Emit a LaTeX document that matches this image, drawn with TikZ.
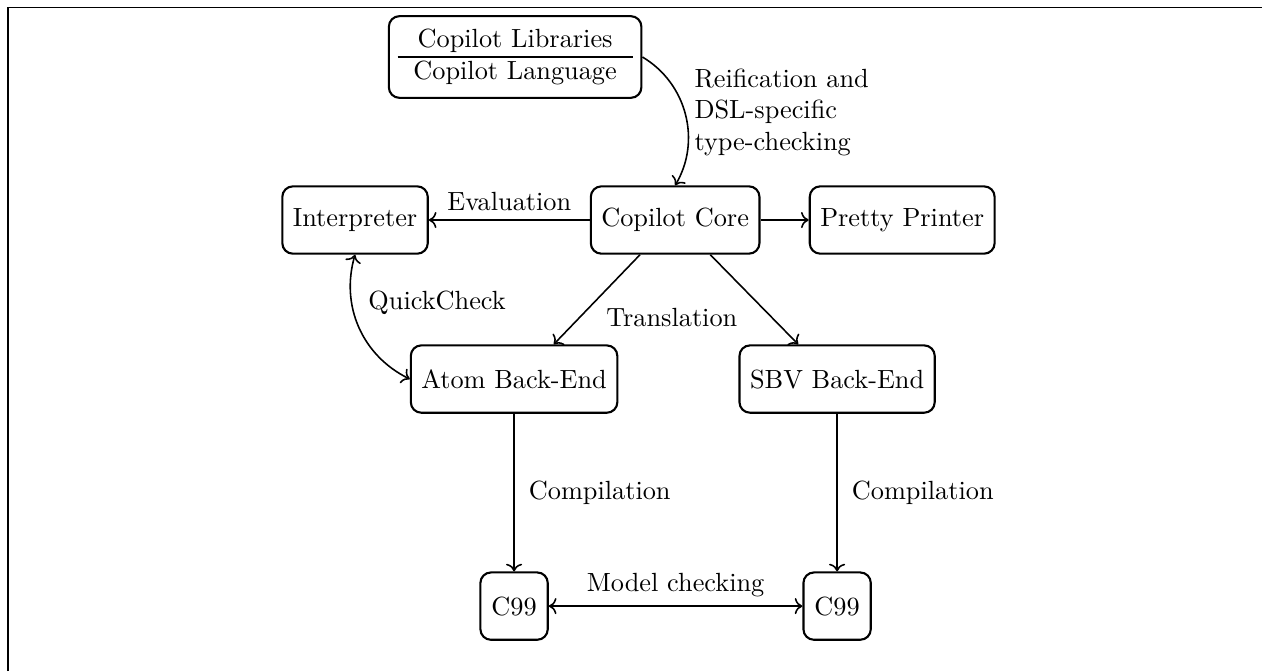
\documentclass[tikz,border=0pt]{standalone}
\usepackage{tikz}
\usetikzlibrary{calc,arrows.meta}

\tikzset{
  blok/.style={draw, thick, rounded corners=4pt, minimum height=0.9cm, minimum width=0.9cm, inner xsep=4pt},
  strilka/.style={semithick, ->},
}

\begin{document}
\begin{tikzpicture}
        % рамка (видно лише верхній і лівий край)
        \useasboundingbox (0,0) rectangle (16.87,-8.97);
        \draw (0.107,-8.97) -- (0.107,-0.094) -- (16.87,-0.094);

        % вузли
        \node[draw, thick, rounded corners=4pt] (lang) at (6.886,-0.762)
            {\begin{tabular}{c}Copilot Libraries\\ \hline Copilot Language\end{tabular}};
        \node[blok] (interp) at (4.746,-2.941) {Interpreter};
        \node[blok] (core) at (9.025,-2.941) {Copilot Core};
        \node[blok] (pretty) at (12.06,-2.941) {Pretty Printer};
        \node[blok] (atom) at (6.872,-5.067) {Atom Back-End};
        \node[blok] (sbv) at (11.19,-5.067) {SBV Back-End};
        \node[blok] (cA) at (6.872,-8.102) {C99};
        \node[blok] (cB) at (11.19,-8.102) {C99};

        % кінці стрілок трансляції
        \coordinate (coreL) at ($(core.south)+(-0.47,0)$);
        \coordinate (coreR) at ($(core.south)+(0.47,0)$);
        \coordinate (atomT) at ($(atom.north)+(0.53,0)$);
        \coordinate (sbvT) at ($(sbv.north)+(-0.52,0)$);

        % стрілки
        \draw[strilka] (lang.east) to[bend left=45] (core.north);
        \node[align=left, anchor=west] (reif) at (9.16,-1.50)
            {Reification and\\DSL-specific\\type-checking};
        \draw[strilka] (core) -- node[above] (eval) {Evaluation} (interp);
        \draw[strilka] (core) -- (pretty);
        \draw[semithick, <->] (interp.south) to[bend right=40] (atom.west);
        \node (qc) at (5.843,-4.051) {QuickCheck};
        \draw[strilka] (coreL) -- (atomT);
        \draw[strilka] (coreR) -- (sbvT);
        \node (transl) at (8.98,-4.25) {Translation};
        \draw[strilka] (atom) -- node[right=2pt] (compA) {Compilation} (cA);
        \draw[strilka] (sbv) -- node[right=2pt] (compB) {Compilation} (cB);
        \draw[semithick, <->] (cA) -- node[above] (mc) {Model checking} (cB);

    \end{tikzpicture}
\end{document}
